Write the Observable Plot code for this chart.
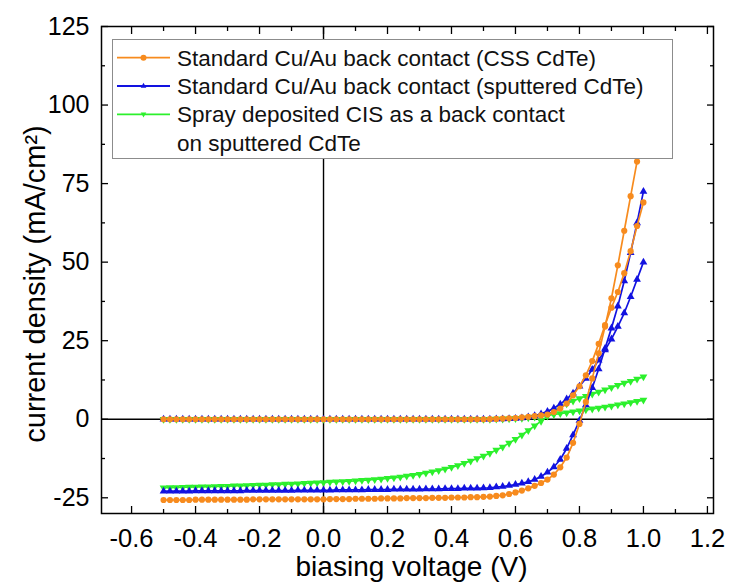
<!DOCTYPE html>
<html><head><meta charset="utf-8">
<script src="https://cdn.jsdelivr.net/npm/d3@7"></script>
<script src="https://cdn.jsdelivr.net/npm/@observablehq/plot@0.6"></script>
<style>
body{margin:0;background:#fff;}
#wrap{position:relative;width:729px;height:588px;font-family:"Liberation Sans",Arial,sans-serif;}
#legend{position:absolute;left:112px;top:39px;width:561px;height:120px;box-sizing:border-box;border:1px solid #8c8c8c;background:#fff;}
#legend svg{position:absolute;left:-1px;top:-1px;}
</style></head><body><div id="wrap"></div>
<script>
// biasing voltage (V)
const voltage = [-0.50,-0.48,-0.46,-0.44,-0.42,-0.40,-0.38,-0.36,-0.34,-0.32,
  -0.30,-0.28,-0.26,-0.24,-0.22,-0.20,-0.18,-0.16,-0.14,-0.12,
  -0.10,-0.08,-0.06,-0.04,-0.02,0.00,0.02,0.04,0.06,0.08,
  0.10,0.12,0.14,0.16,0.18,0.20,0.22,0.24,0.26,0.28,
  0.30,0.32,0.34,0.36,0.38,0.40,0.42,0.44,0.46,0.48,
  0.50,0.52,0.54,0.56,0.58,0.60,0.62,0.64,0.66,0.68,
  0.70,0.72,0.74,0.76,0.78,0.80,0.82,0.84,0.86,0.88,
  0.90,0.92,0.94,0.96,0.98,1.00];

// Standard Cu/Au (CSS CdTe) — illuminated and dark
const cssLight = [-25.7,-25.7,-25.7,-25.7,-25.7,-25.6,-25.6,-25.6,-25.6,-25.6,
  -25.6,-25.6,-25.6,-25.6,-25.5,-25.5,-25.5,-25.5,-25.5,-25.5,
  -25.5,-25.5,-25.5,-25.5,-25.5,-25.5,-25.4,-25.4,-25.4,-25.4,
  -25.3,-25.3,-25.3,-25.3,-25.2,-25.2,-25.2,-25.2,-25.1,-25.1,
  -25.1,-25.1,-25.0,-25.0,-25.0,-24.9,-24.9,-24.9,-24.8,-24.8,
  -24.7,-24.6,-24.4,-24.2,-23.8,-23.3,-22.7,-22.0,-21.2,-20.3,
  -19.2,-17.6,-15.3,-12.2,-7.5,-1.5,5.5,13,21,29.5,
  38.5,49,60,71,82,93];
const cssDark = [0,0,0,0,0,0,0,0,0,0,
  0,0,0,0,0,0,0,0,0,0,
  0,0,0,0,0,0,0,0,0,0,
  0,0,0,0,0,0,0,0,0,0,
  0,0,0,0,0,0,0,0,0,0,
  0,0.05,0.1,0.2,0.3,0.4,0.6,0.8,1.0,1.2,
  1.5,2.3,3.4,5.0,7.6,10.5,14.0,18.5,24.0,30.0,
  35.5,40.5,46.5,53.5,61.5,69];

// Standard Cu/Au (sputtered CdTe)
const sputLight = [-22.9,-22.9,-22.9,-22.9,-22.9,-22.8,-22.8,-22.8,-22.8,-22.8,
  -22.8,-22.8,-22.8,-22.7,-22.7,-22.7,-22.7,-22.7,-22.7,-22.7,
  -22.7,-22.6,-22.6,-22.6,-22.6,-22.6,-22.6,-22.5,-22.5,-22.5,
  -22.5,-22.5,-22.4,-22.4,-22.4,-22.4,-22.3,-22.3,-22.3,-22.3,
  -22.3,-22.2,-22.2,-22.2,-22.1,-22.1,-22.1,-22.0,-22.0,-22.0,
  -21.9,-21.8,-21.6,-21.4,-21.1,-20.8,-20.4,-19.9,-19.2,-18.2,
  -16.9,-15.2,-12.8,-9.3,-5.0,-0.4,4.5,10,16,22.5,
  29,36,44,53,62.5,72.5];
const sputDark = [0,0,0,0,0,0,0,0,0,0,
  0,0,0,0,0,0,0,0,0,0,
  0,0,0,0,0,0,0,0,0,0,
  0,0,0,0,0,0,0,0,0,0,
  0,0,0,0,0,0,0,0,0,0,
  0,0.02,0.05,0.08,0.12,0.2,0.4,0.7,1.1,1.7,
  2.5,3.5,4.8,6.4,8.3,10.5,13,15.8,18.8,22,
  25.5,29.5,33.8,39,44.5,50];

// Spray deposited CIS back contact on sputtered CdTe
const cisLight = [-21.8,-21.75,-21.7,-21.65,-21.6,-21.55,-21.5,-21.45,-21.4,-21.35,
  -21.3,-21.2,-21.15,-21.1,-21.0,-20.95,-20.9,-20.8,-20.75,-20.65,
  -20.6,-20.5,-20.4,-20.3,-20.2,-20.1,-20.0,-19.9,-19.8,-19.7,
  -19.6,-19.45,-19.3,-19.15,-19.0,-18.8,-18.6,-18.4,-18.1,-17.8,
  -17.5,-17.1,-16.7,-16.3,-15.8,-15.3,-14.7,-14.0,-13.3,-12.5,
  -11.7,-10.8,-9.8,-8.8,-7.6,-6.4,-5.0,-3.6,-2.1,-0.6,
  1.0,2.5,3.8,4.9,5.8,6.6,7.3,8.0,8.7,9.4,
  10.1,10.8,11.5,12.1,12.8,13.5];
const cisDark = [0,0,0,0,0,0,0,0,0,0,
  0,0,0,0,0,0,0,0,0,0,
  0,0,0,0,0,0,0,0,0,0,
  0,0,0,0,0,0,0,0,0,0,
  0,0,0,0,0,0,0,0,0,0,
  0,0.02,0.05,0.1,0.15,0.2,0.35,0.5,0.7,0.95,
  1.2,1.5,1.8,2.1,2.4,2.7,3.0,3.3,3.6,3.9,
  4.2,4.6,4.9,5.3,5.7,6.1];

const legendLabels = ["Standard Cu/Au back contact (CSS CdTe)",
  "Standard Cu/Au back contact (sputtered CdTe)",
  "Spray deposited CIS as a back contact",
  "on sputtered CdTe"];
const xTicks = [-0.6,-0.4,-0.2,0.0,0.2,0.4,0.6,0.8,1.0,1.2];
const xMinor = [-0.5,-0.3,-0.1,0.1,0.3,0.5,0.7,0.9,1.1];
const yTicks = [-25,0,25,50,75,100,125];
const yMinor = [-12.5,12.5,37.5,62.5,87.5,112.5];

const ORANGE = "#F78B1E", BLUE = "#1212E0", GREEN = "#2CF02C";

const downTriangle = {
  draw(context, size) {
    const y = -Math.sqrt(size / (Math.sqrt(3) * 3));
    context.moveTo(0, -y * 2);
    context.lineTo(-Math.sqrt(3) * y, y);
    context.lineTo(Math.sqrt(3) * y, y);
    context.closePath();
  }
};

const mk = (arr) => voltage.map((v, i) => ({V: v, J: arr[i]}));
const series = [
  {data: mk(cisLight), color: GREEN, symbol: downTriangle, r: 2.9},
  {data: mk(cisDark), color: GREEN, symbol: downTriangle, r: 2.9},
  {data: mk(sputLight), color: BLUE, symbol: "triangle", r: 2.9},
  {data: mk(sputDark), color: BLUE, symbol: "triangle", r: 2.9},
  {data: mk(cssDark), color: ORANGE, symbol: "circle", r: 3.1},
  {data: mk(cssLight), color: ORANGE, symbol: "circle", r: 3.1}
];

const seriesMarks = series.flatMap(s => [
  Plot.line(s.data, {x: "V", y: "J", stroke: s.color, strokeWidth: 1.7}),
  Plot.dot(s.data, {x: "V", y: "J", fill: s.color, stroke: "none", r: s.r, symbol: s.symbol})
]);

const TK = 7, TM = 4;
const chart = Plot.plot({
  width: 729, height: 588,
  marginLeft: 101, marginRight: 16, marginTop: 26, marginBottom: 75,
  style: {fontFamily: '"Liberation Sans", Arial, sans-serif', color: "black", background: "white"},
  x: {domain: [-0.694, 1.219], axis: null},
  y: {domain: [-30, 125], axis: null},
  marks: [
    Plot.ruleX([0], {stroke: "black", strokeWidth: 1.4}),
    Plot.ruleY([0], {stroke: "black", strokeWidth: 1.4}),
    ...seriesMarks,
    Plot.frame({stroke: "black", strokeWidth: 1.5}),
    // inward major ticks
    Plot.axisX(xTicks, {anchor: "bottom", tickSize: TK, dy: -TK, tickFormat: () => "", label: null, strokeWidth: 1.3}),
    Plot.axisX(xTicks, {anchor: "top", tickSize: TK, dy: TK, tickFormat: () => "", label: null, strokeWidth: 1.3}),
    Plot.axisY(yTicks, {anchor: "left", tickSize: TK, dx: TK, tickFormat: () => "", label: null, strokeWidth: 1.3}),
    Plot.axisY(yTicks, {anchor: "right", tickSize: TK, dx: -TK, tickFormat: () => "", label: null, strokeWidth: 1.3}),
    // inward minor ticks
    Plot.axisX(xMinor, {anchor: "bottom", tickSize: TM, dy: -TM, tickFormat: () => "", label: null, strokeWidth: 1.3}),
    Plot.axisX(xMinor, {anchor: "top", tickSize: TM, dy: TM, tickFormat: () => "", label: null, strokeWidth: 1.3}),
    Plot.axisY(yMinor, {anchor: "left", tickSize: TM, dx: TM, tickFormat: () => "", label: null, strokeWidth: 1.3}),
    Plot.axisY(yMinor, {anchor: "right", tickSize: TM, dx: -TM, tickFormat: () => "", label: null, strokeWidth: 1.3}),
    // tick labels
    Plot.axisX(xTicks, {anchor: "bottom", tickSize: 0, tickPadding: 15, tickFormat: d => d.toFixed(1), fontSize: 25.5, label: null}),
    Plot.axisY(yTicks, {anchor: "left", tickSize: 0, tickPadding: 12, tickFormat: d => String(d), fontSize: 25, label: null}),
    // axis titles
    Plot.text(["biasing voltage (V)"], {text: d => d, frameAnchor: "bottom", dy: 62, dx: 4, fontSize: 28}),
    Plot.text(["current density (mA/cm\u00B2)"], {text: d => d, frameAnchor: "left", textAnchor: "middle", dx: -66, dy: 14, rotate: -90, fontSize: 29})
  ]
});

const wrap = document.getElementById("wrap");
wrap.appendChild(chart);

// legend
const legend = document.createElement("div");
legend.id = "legend";
const rowsY = [18.7, 47, 75.3, 103.7];
const legColors = [ORANGE, BLUE, GREEN];
let svg = `<svg width="561" height="120" xmlns="http://www.w3.org/2000/svg" font-family="Liberation Sans, Arial, sans-serif" font-size="22.5">`;
legColors.forEach((c, i) => {
  const y = rowsY[i];
  svg += `<line x1="5" x2="58" y1="${y}" y2="${y}" stroke="${c}" stroke-width="1.8"/>`;
  if (i === 0) svg += `<circle cx="31.5" cy="${y}" r="3" fill="${c}"/>`;
  else if (i === 1) svg += `<path d="M31.5,${y-3.2}L34.3,${y+1.8}L28.7,${y+1.8}Z" fill="${c}"/>`;
  else svg += `<path d="M31.5,${y+3.2}L34.3,${y-1.8}L28.7,${y-1.8}Z" fill="${c}"/>`;
});
legendLabels.forEach((t, i) => {
  svg += `<text x="65" y="${rowsY[i] + 8}" fill="#111">${t}</text>`;
});
svg += `</svg>`;
legend.innerHTML = svg;
wrap.appendChild(legend);
</script>
</body></html>
